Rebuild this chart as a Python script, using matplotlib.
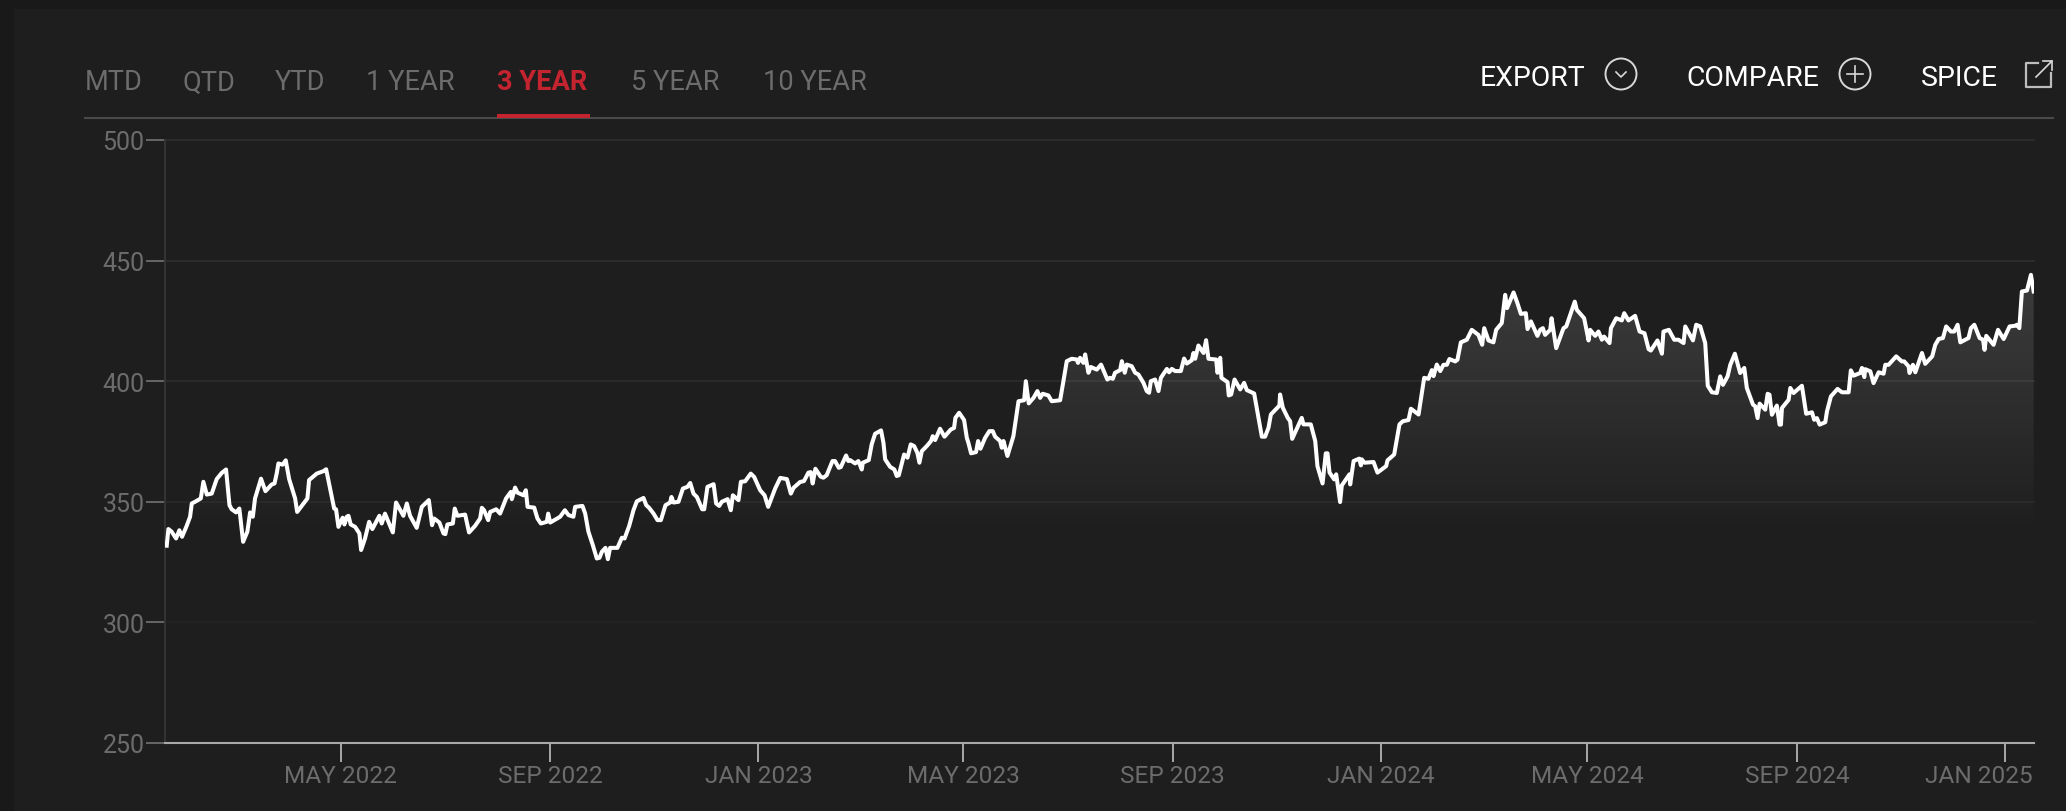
import numpy as np
import pandas as pd
import matplotlib
matplotlib.use('Agg')
import matplotlib.pyplot as plt
from matplotlib.patches import Circle, Rectangle

plt.rcParams['font.family'] = ['Roboto', 'DejaVu Sans']

start_date = pd.Timestamp('2022-01-18')
end_date = pd.Timestamp('2025-01-18')

# days after start_date
days = [
    1.0, 2.0, 3.9, 6.5, 8.4, 10, 12.7, 14.7, 15.7, 17.6, 21, 22.5, 24.5, 27.4, 30.3, 33.3, 35.8, 37.8, 39.1, 41.7,
    43.6, 45.8, 48.3, 49.9, 51.5, 52.8, 56.3, 58.9, 62.6, 64.2, 65.5, 66.5, 69.0, 70.8, 72.8, 76.3, 77.5, 83.5, 84.5, 89,
    92.9, 94.5, 99.2, 100.3, 101.7, 104.2, 105.2, 106.6, 107.6, 108.9, 111.5, 114, 115, 117.3, 119.7, 121.6, 125.7, 127.1, 129, 133.6,
    135.5, 139.8, 141.8, 143.7, 147.6, 150.6, 154.7, 156.6, 157.8, 160.9, 163.3, 164.4, 165.6, 168.8, 169.9, 171.5, 176, 178.3, 181.8,
    184.8, 185.8, 187.1, 189.5, 190.7, 194.2, 196.5, 200, 202.8, 203.4, 205.3, 206.7, 210.2, 211.6, 212.6, 216.5, 218.4, 220.4, 223.9, 224.7,
    225.9, 231.7, 234.5, 236.6, 239.5, 240.5, 244.8, 246.4, 248.3, 250.9, 253.2, 254.8, 256.2, 258.3, 259.7, 261, 265.3, 267.9, 269.5, 272.2,
    274.7, 276.7, 280.6, 282.2, 283.9, 286.5, 288.8, 290.8, 293.5, 296.2, 297, 298.2, 301.1, 303.7, 306.4, 308, 309.9, 311.9, 315, 316.2,
    318.1, 321.7, 323.2, 325, 326.5, 329.9, 331.8, 333, 336.3, 337.7, 340.2, 343.5, 345.5, 349, 351.6, 353.7, 357.8, 360.8, 364.7, 367, 368.6,
    372.4, 374.7, 377.3, 378.7, 379.8, 381.4, 384.5, 386.1, 388, 391.4, 392.9, 395.1, 396.3, 399.4, 400.7, 401.7, 404.7, 406.6, 408.6, 409.2,
    412.7, 414.4, 416.4, 419.9, 421.3, 422.3, 425.2, 427.7, 429.1, 430.3, 433.4, 435.4, 437.3, 439.3, 441.2, 442.4, 443.8, 446.7, 449.2, 450.2,
    451.6, 454.5, 457.1, 460.8, 462.7, 463.5, 465.7, 468.6, 470.2, 471.1, 472.7, 475.6, 476.8, 478.2, 480.9, 483.4, 485.4, 486.8, 489.7, 490.7,
    491.7, 494, 497.5, 500.5, 503.8, 504.8, 506.5, 509.3, 511.6, 513.2, 514.7, 518, 520, 524.9, 526.5, 528.8, 531.7, 534.7, 535.4, 536.6,
    538.6, 539.6, 541.5, 542.9, 546.4, 548.9, 552.6, 554.2, 555.8, 557.1,
    560.1, 561.1, 562.8, 564, 566.9, 568.9, 570.8, 573.8, 575.7, 577.1, 578.1, 580.6, 582.6, 584, 587.5, 588.8, 590.4, 592.4, 595.7, 597.6,
    599.2, 602.1, 603.1, 604.1, 606, 609, 610.5, 611.9, 616.4, 617.2, 618.8, 619.5, 623.1, 623.8, 625.2, 627.2, 630.5, 632.8, 634.4, 638.7,
    643.2, 645.1, 647.1, 648.5, 653.5, 653.9, 655.5, 658.4, 659.8, 661, 666.6, 667.6, 671.9, 674.5, 675.8, 678.8, 680.7, 681.7, 682.9, 685.6,
    686.8, 689.1, 690.1, 694.6, 695, 697, 700.3, 701.3, 701.8, 703.4, 708.7, 711, 716.1, 716.9, 720.8, 723.9, 725.9, 729.2, 730.6, 735.1,
    738.4, 740.9, 742.9, 743.9, 745.8, 747.8,
    749.7, 751.7, 753.2, 756.6, 757.9, 759.9, 763.4, 766.3, 770.2, 772.4, 773.6, 776.1, 779, 780.6, 783.9, 785.9, 787, 790.8, 793.1, 795.1,
    798, 799, 801, 804.8, 806.4, 808, 809.3, 812.3, 813.1, 814.6, 815.8, 820.1, 821.7, 826.7, 827.9, 832.2, 834.8, 835.7, 838.7, 840.6,
    842.6, 843.9, 847.1, 847.9, 851, 854.3, 855.7, 858.2, 862.1, 864.7, 867.6, 870, 871.3, 875.2, 877.8, 878.7, 881.9, 885, 887.5, 890.5,
    891.5, 896, 897.9, 900.3, 903.2, 904.7, 907.1, 910, 912,
    913.6, 916.3, 917.9, 920.6, 923.7, 926.1, 927.6, 931.2, 932.5, 933.9, 935.1, 938.4, 939.8, 940.9, 942.3, 945.2, 946.8, 947.6, 948.2, 952.1,
    953.1, 955, 959.9, 962.4, 965.8, 967.1, 968.7, 970.3, 973.6, 974.6, 976.9, 980.8, 983.4, 987.3, 988.6, 990.2, 994.1, 995.1, 996.5, 997,
    1000, 1001.9, 1004.9, 1007.8, 1008.8, 1010.7, 1015.2, 1018.5, 1019.9, 1022.5, 1023, 1025, 1026.4, 1030.3, 1032.2, 1036.3, 1038.1, 1040.1, 1042.6, 1044.5,
    1047.3, 1049.2, 1051.2, 1052.8, 1057.6, 1059, 1061, 1064.1, 1066.1, 1067, 1068, 1072.3, 1074.9, 1078.2, 1081.7, 1085, 1086, 1087.4, 1088.9, 1091.9,
    1094.2, 1095.8,
]
prices = [
    331.8, 338.7, 337.6, 334.8, 338.2, 335.5, 340.0, 343.8, 349.3, 350.0, 351.4, 358.3, 353.0, 353.4, 359.4, 362.0, 363.4, 348.6, 346.9, 345.6,
    347.2, 333.4, 337.6, 345.6, 343.8, 351.4, 359.6, 354.4, 357.2, 357.6, 361.7, 365.9, 365.4, 367.2, 359.4, 351.4, 345.8, 351.4, 359, 361.7,
    362.7, 363.5, 347.2, 346.9, 339.6, 343.4, 340.6, 343.8, 344.2, 340.6, 339.6, 336.9, 330, 334.8, 341.7, 338.7, 344.2, 341, 345.1, 337.3,
    349.7, 344.2, 349.3, 344.2, 339.2, 347.9, 350.7, 340.3, 343.1, 341.4, 336.9, 336.6, 340.6, 341, 347.2, 344.2, 344.7, 337.3, 340,
    343.1, 347.5, 346.5, 342.4, 345.8, 346.9, 345.1, 351.4, 354.1, 351.1, 355.9, 353.8, 352.7, 354.8, 347.9, 347.6, 343.1, 341, 341.7, 345.1,
    341.4, 343.8, 346.5, 344.5, 343.8, 347.9, 348.3, 345.1, 337.6, 332, 326.5, 326.8, 329.3, 330.9, 326.2, 330.9, 330.9, 335.1, 334.8, 340,
    346.5, 350.2, 351.6, 348.6, 347.5, 345.1, 342.4, 342.4, 348.6, 349.7, 352, 349.7, 350, 355.5, 356.2, 357.8, 353.4, 352, 346.9, 346.9,
    356.2, 357.3, 349.3, 348.3, 350, 351.1, 346.5, 352.7, 350.7, 358.3, 358.5, 361.7, 360.3, 354.8, 352.7, 347.9, 355.5, 359.9, 359.4, 353.4, 355.8,
    358.2, 358.6, 362.1, 362.3, 357.6, 363.7, 360.4, 360, 361, 366.9, 366.9, 364.1, 364.4, 369.2, 366.9, 367.3, 365.9, 366.9, 363.4, 366.2,
    367.3, 373.8, 378.2, 379.6, 374.5, 367.6, 364.5, 363.4, 360.7, 361, 369.6, 368.3, 373.8, 373.1, 370.3, 366.2, 371, 373.1, 375.2, 377.2,
    375.6, 380.3, 377, 380, 380.6, 384.8, 386.9, 383.9, 376.5, 374.5, 370.1, 370.6, 375.2, 372, 376.5, 379.3, 379.3, 377, 375.2, 372.4,
    375.2, 369, 377.2, 391.7, 392.1, 400, 390.8, 393.1, 395.9, 393.1, 394.8, 394.1, 391.7, 392.1, 398.6, 408.3, 409.3, 409, 407.6, 409.7,
    407.6, 411.1, 403.5, 405.9, 404.8, 406.9, 400.7, 401.4, 401, 403.5,
    404.6, 408.3, 403.5, 406.9, 406.2, 403.5, 402.8, 399.3, 395.9, 395.2, 400, 400.7, 395.9, 401.4, 405.1, 403.7, 405.1, 404.2, 404.2, 409.4,
    407.3, 408.7, 411.7, 409.3, 414.8, 411.7, 417, 409.3, 409, 403.5, 409.7, 401.4, 399.6, 394.1, 394.5, 400.7, 396.6, 399.3, 396.3, 394.9,
    377, 377, 380.7, 386.2, 389.9, 394.5, 389, 384.8, 383.4, 376.1, 384.8, 382.1, 382.1, 375.2, 364.8, 357.6, 370.1, 370.1, 362.1, 359.3,
    361.4, 349.9, 356.8, 361.4, 357.2, 366.9, 367.9, 365.1, 367.6, 366.2, 366.5, 362.1, 364.8, 367.2, 369.6, 382.1, 383.4, 383.9, 388.6, 386.2,
    401.4, 401, 404.6, 402.1, 406.9, 404.2,
    406.8, 406.8, 409.2, 408.2, 408.9, 416.1, 417.2, 421.3, 419.2, 415.1, 422, 416.9, 416.1, 421.3, 424.1, 435.8, 430.3, 436.8, 432.3, 427.9,
    428.2, 421.6, 424.8, 418.8, 421.3, 422, 419.2, 421.3, 426.1, 419.2, 413.7, 422, 422.7, 433, 429.6, 426.1, 416.9, 421.3, 418.8, 420.6,
    417.2, 418.5, 415.8, 422, 426.1, 425.2, 428.2, 425.2, 427.1, 420.6, 419.9, 413.3, 412.7, 416.9, 411.4, 420.6, 421.3, 417.2, 417.2, 415.8,
    422.7, 416.9, 423.4, 422.7, 415.8, 398.1, 395.4, 395.1, 402,
    398.5, 402, 406.8, 411.4, 403.4, 405.5, 397.2, 390.3, 389.6, 384.7, 390.7, 388.2, 394.8, 394.4, 386.1, 389.9, 382, 382, 388.9, 392.3,
    397.2, 395.1, 398.1, 386.5, 387.1, 384, 384.7, 382, 383, 387.5, 393.7, 396.8, 395.4, 395.4, 404.5, 402.3, 403.4, 405.5, 401.7, 405,
    404.1, 399.2, 403.7, 403.1, 406.8, 406.8, 410.3, 408.2, 408.2, 406.1, 403.4, 406.8, 403.7, 411.7, 407.2, 410.3, 415.1, 417.5, 417.9, 422.7,
    420.6, 420.6, 423.4, 416.1, 417.9, 422, 423.4, 417.9, 417.2, 413, 418.8, 415.1, 421.3, 417.5, 422.7, 423, 423.4, 422, 437.2, 437.6,
    444.1, 437.2,
]

y_ticks = [250, 300, 350, 400, 450, 500]
x_tick_labels = ['MAY 2022', 'SEP 2022', 'JAN 2023', 'MAY 2023', 'SEP 2023', 'JAN 2024', 'MAY 2024', 'SEP 2024', 'JAN 2025']
range_labels = ['MTD', 'QTD', 'YTD', '1 YEAR', '3 YEAR', '5 YEAR', '10 YEAR']
active_range = '3 YEAR'

W, H = 2066, 812
bg = '#1e1e1e'
grey = '#6c6c6c'

dates = start_date + pd.to_timedelta(days, unit='D')
x_ticks = pd.to_datetime(x_tick_labels, format='%b %Y')

fig = plt.figure(figsize=(W / 100, H / 100), dpi=100, facecolor='#191919')

# page panel and header drawn in pixel coords
hdr = fig.add_axes([0, 0, 1, 1], zorder=0)
hdr.set_xlim(0, W)
hdr.set_ylim(H, 0)
hdr.axis('off')
hdr.add_patch(Rectangle((14, 10), W - 14, H - 10, fc=bg, ec='none'))

range_x = [85, 183, 275, 366, 497, 631, 763]
for lab, x in zip(range_labels, range_x):
    active = lab == active_range
    hdr.text(x, 80, lab, color='#c4242f' if active else grey, fontsize=19.6, ha='left', va='center_baseline',
             fontweight='bold' if active else 'normal')
hdr.plot([84, 2054], [119, 119], color='#4a4a4a', lw=1.5, solid_capstyle='butt')
hdr.add_patch(Rectangle((497, 115), 93, 4, fc='#c4242f', ec='none', zorder=3))

hdr.text(1480, 76, 'EXPORT', color='white', fontsize=20.4, ha='left', va='center_baseline')
hdr.text(1686, 76, 'COMPARE', color='white', fontsize=20.4, ha='left', va='center_baseline')
hdr.text(1921, 76, 'SPICE', color='white', fontsize=20.4, ha='left', va='center_baseline')
icon = '#d8d8d8'
hdr.add_patch(Circle((1621, 75), 15.5, fc='none', ec=icon, lw=1.4))
hdr.plot([1616, 1621, 1626], [73, 78, 73], color=icon, lw=1.2)
hdr.add_patch(Circle((1855, 75), 15.5, fc='none', ec=icon, lw=1.4))
hdr.plot([1847, 1863], [75, 75], color=icon, lw=1.2)
hdr.plot([1855, 1855], [67, 83], color=icon, lw=1.2)
hdr.plot([2038, 2026, 2026, 2051, 2051], [64, 64, 88, 88, 74], color='#bdbdbd', lw=1.6)
hdr.plot([2036, 2052, 2043], [78, 62, 62], color=icon, lw=1.2)
hdr.plot([2052, 2052], [62, 71], color=icon, lw=1.2)

ax = fig.add_axes([165 / W, 1 - 744 / H, (2034 - 165) / W, (744 - 141) / H], zorder=1)
ax.patch.set_alpha(0)

grid_colors = ['#2a2a2a', '#232323', '#282828', '#2b2b2b', '#2c2c2c', '#2c2c2c']
for val, c in zip(y_ticks[1:], grid_colors[1:]):
    ax.axhline(val, color=c, lw=1.4, zorder=1, clip_on=False)

# gradient under the line, clipped to the area below it
poly = ax.fill_between(dates, prices, 250, facecolor='none', edgecolor='none')
grad = np.zeros((256, 2, 4))
grad[..., :3] = 1.0
grad[..., 3] = np.linspace(0.14, 0.0, 256)[:, None]
xr = matplotlib.dates.date2num([start_date, end_date])
im = ax.imshow(grad, extent=[xr[0], xr[1], 335, 445], aspect='auto', origin='upper', zorder=2)
im.set_clip_path(poly.get_paths()[0], transform=poly.get_transform())

ax.plot(dates, prices, color='white', lw=2.9, solid_joinstyle='round', zorder=3)

ax.set_xlim(start_date, end_date)
ax.set_ylim(250, 500)
ax.set_xticks(x_ticks)
# the last label is pushed left to stay inside the chart
ax.set_xticklabels(x_tick_labels[:-1] + [''])
ax.set_yticks(y_ticks)
ax.tick_params(axis='x', length=13.7, width=1.4, color='#a8a8a8', labelcolor=grey, labelsize=17.6, pad=1.5)
ax.tick_params(axis='y', length=13.7, width=1.4, color='#666666', labelcolor=grey, labelsize=18, pad=1)
ax.annotate(x_tick_labels[-1], xy=(x_ticks[-1], 0), xycoords=('data', 'axes fraction'), xytext=(28, -21),
            textcoords='offset pixels', ha='right', va='top', color=grey, fontsize=17.6)
for s in ['top', 'right']:
    ax.spines[s].set_visible(False)
ax.spines['left'].set_color('#333333')
ax.spines['left'].set_linewidth(1.5)
ax.spines['bottom'].set_color('#a8a8a8')
ax.spines['bottom'].set_linewidth(1.5)
ax.spines['bottom'].set_zorder(5)

fig.savefig('out.png', dpi=100, facecolor=fig.get_facecolor())
